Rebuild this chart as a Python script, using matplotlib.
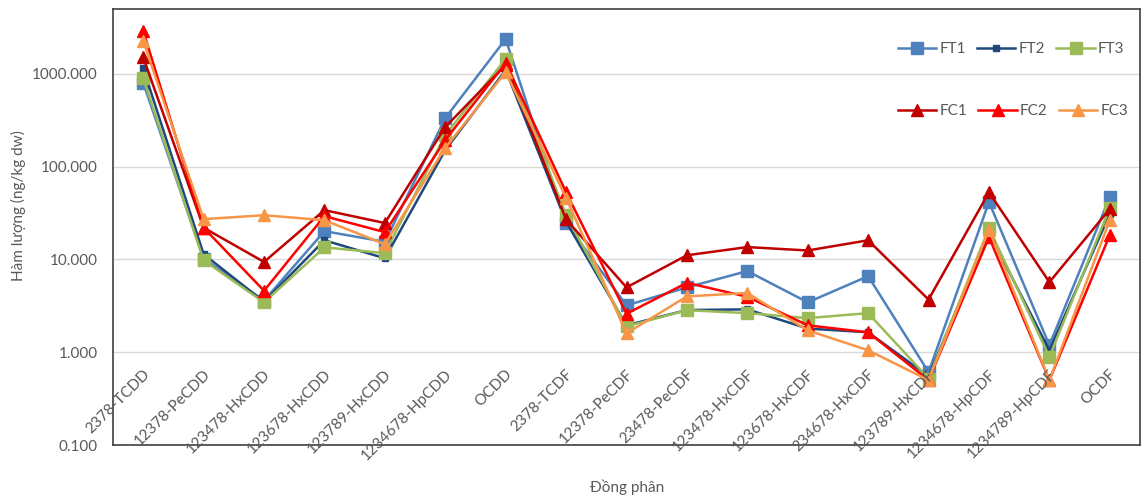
import matplotlib.pyplot as plt
import matplotlib.transforms as mtransforms

plt.rcParams['font.family'] = ['Lato', 'DejaVu Sans']

congeners = ['2378-TCDD', '12378-PeCDD', '123478-HxCDD', '123678-HxCDD', '123789-HxCDD',
             '1234678-HpCDD', 'OCDD', '2378-TCDF', '12378-PeCDF', '23478-PeCDF',
             '123478-HxCDF', '123678-HxCDF', '234678-HxCDF', '123789-HxCDF',
             '1234678-HpCDF', '1234789-HpCDF', 'OCDF']

ft1 = [800, 10.2, 3.6, 20.2, 15.5, 334, 2380, 24.6, 3.2, 5.0, 7.5, 3.45, 6.6, 0.61, 41.7, 1.19, 47]
ft2 = [1150, 11.4, 3.5, 16.1, 10.3, 151, 1100, 25.5, 1.95, 2.85, 2.9, 1.8, 1.64, 0.55, 19.5, 1.05, 31]
ft3 = [900, 9.8, 3.45, 13.5, 11.7, 219, 1450, 30, 1.9, 2.84, 2.64, 2.33, 2.64, 0.52, 21.8, 0.89, 36]
fc1 = [1515, 22, 9.4, 34, 24.7, 268, 1250, 27, 5.0, 11.1, 13.6, 12.5, 16.1, 3.7, 53, 5.7, 35]
fc2 = [2925, 22, 4.6, 29.3, 19.7, 194, 1310, 53, 2.6, 5.6, 3.96, 1.95, 1.64, 0.5, 17.4, 0.5, 18.3]
fc3 = [2280, 27.2, 30, 26.5, 14.6, 160, 1050, 46, 1.6, 4.0, 4.35, 1.72, 1.05, 0.5, 21, 0.5, 26.6]

series = [
    ('FT1', ft1, '#4F81BD', 's', 8),
    ('FT2', ft2, '#1F497D', 's', 4.5),
    ('FT3', ft3, '#9BBB59', 's', 8),
    ('FC1', fc1, '#C00000', '^', 9),
    ('FC2', fc2, '#FF0000', '^', 9),
    ('FC3', fc3, '#F79646', '^', 9),
]

grey = '#595959'

fig = plt.figure(figsize=(11.42, 4.98), dpi=100)
ax = fig.add_axes([113 / 1142, 1 - 445 / 498, (1140 - 113) / 1142, (445 - 9) / 498])

x = list(range(len(congeners)))
lines = []
for name, vals, col, mk, ms in series:
    ln, = ax.plot(x, vals, color=col, marker=mk, markersize=ms, lw=1.8,
                  markeredgecolor=col, label=name)
    lines.append(ln)

ax.set_yscale('log')
ax.set_ylim(0.1, 10 ** 3.70)
ax.set_xlim(-0.5, 16.5)
ax.set_yticks([0.1, 1, 10, 100, 1000])
ax.set_yticklabels(['0.100', '1.000', '10.000', '100.000', '1000.000'])
ax.minorticks_off()
ax.yaxis.grid(True, color='#D9D9D9', lw=1)
ax.set_axisbelow(True)
ax.tick_params(axis='y', length=0, pad=11, labelsize=11, labelcolor=grey)
ax.set_xticks([])
for s in ax.spines.values():
    s.set_color('#404040')
    s.set_linewidth(1.2)

# category labels sit inside the plot area, above the bottom axis line
trans = mtransforms.blended_transform_factory(ax.transData, ax.transAxes)
for i, lab in enumerate(congeners):
    ax.text(i + 0.07, 0.167, lab, transform=trans, rotation=45, rotation_mode='anchor',
            ha='right', va='center', fontsize=11, color=grey)

fig.text(627 / 1142, 1 - 487 / 498, 'Đồng phân', ha='center', va='center', fontsize=11, color=grey)
fig.text(18 / 1142, 1 - 206 / 498, 'Hàm lượng (ng/kg dw)', ha='center', va='center',
         rotation=90, fontsize=11, color=grey)

leg_kw = dict(ncol=3, frameon=False, loc='center left', borderaxespad=0, borderpad=0,
              handlelength=2.5, handletextpad=0.2, columnspacing=0.75, fontsize=11,
              labelcolor=grey)
leg1 = fig.legend(handles=lines[:3], bbox_to_anchor=(898 / 1142, 1 - 49 / 498), **leg_kw)
leg2 = fig.legend(handles=lines[3:], bbox_to_anchor=(898 / 1142, 1 - 111 / 498), **leg_kw)

fig.savefig('out.png', dpi=100)
